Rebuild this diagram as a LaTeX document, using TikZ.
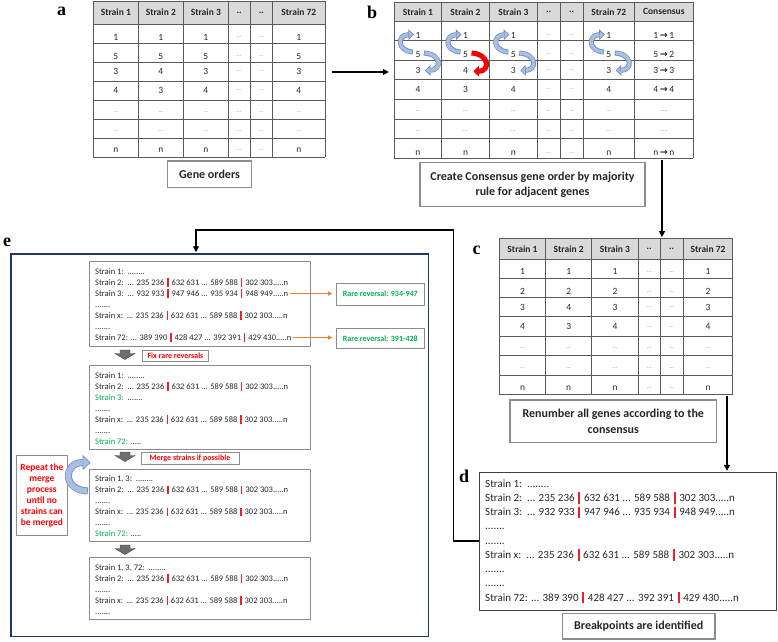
\documentclass[tikz,border=0pt]{standalone}
\usepackage{fontspec}
\setmainfont{Carlito}
\newfontfamily\lblfont{Liberation Serif}
\newfontfamily\djv{DejaVu Sans}
\usetikzlibrary{arrows.meta,fit,calc}
\definecolor{hdr}{HTML}{D9D9D9}
\definecolor{gridc}{HTML}{5A5A5A}
\definecolor{boxc}{HTML}{8C8C8C}
\definecolor{dgrey}{HTML}{404040}
\definecolor{txt}{HTML}{262626}
\definecolor{barred}{HTML}{F0202A}
\definecolor{rred}{HTML}{FF0000}
\definecolor{gr}{HTML}{00B050}
\definecolor{orng}{HTML}{ED7D31}
\definecolor{navy}{HTML}{1F3864}
\definecolor{bdark}{HTML}{6A86B8}
\definecolor{blight}{HTML}{A9BEE0}
\definecolor{garrow}{HTML}{6E6E6E}
\newcommand{\brk}{\hspace{0.33em}{\color{barred}\rule[-0.22em]{0.19em}{1.02em}}\hspace{0.33em}}
\newcommand{\dthree}{...}
\newcommand{\dfive}{.....}
\newcommand{\dseven}{.......}
\newcommand{\deight}{........}
\newcommand{\ellc}{\textcolor{gray}{\fontsize{6}{6}\selectfont\dthree}}
\newcommand{\ellcc}{\textcolor{gray}{\fontsize{6}{6}\selectfont\dfive}}
\newcommand{\arrsym}{{\djv\bfseries\fontsize{9.5}{9.5}\selectfont →}}
\newcommand{\sOne}{Strain 1:\ \ \deight}
\newcommand{\sTwo}{Strain 2:\ \ \dthree{} 235 236\brk 632 631 \dthree{} 589 588\brk 302 303\dfive n}
\newcommand{\sThree}{Strain 3:\ \ \dthree{} 932 933\brk 947 946 \dthree{} 935 934\brk 948 949\dfive n}
\newcommand{\sX}{Strain x:\ \ \dthree{} 235 236\brk 632 631 \dthree{} 589 588\brk 302 303\dfive n}
\newcommand{\sSeventyTwo}{Strain 72: \dthree{} 389 390\brk 428 427 \dthree{} 392 391\brk 429 430\dfive n}
\newcommand{\gThree}{\textcolor{gr}{Strain 3:}\ \ \dseven}
\newcommand{\gSeventyTwo}{\textcolor{gr}{Strain 72:} \dfive}
\newcommand{\mOne}{Strain 1, 3:\ \ \deight}
\newcommand{\mTwo}{Strain 1, 3, 72:\ \ \deight}
\newcommand{\trow}[5]{\foreach \ct [count=\ci] in {#5} {\pgfmathsetmacro\cx{{#3}[\ci-1]}\node[#1] (#2\ci) at (\cx,#4) {\ct};}}
\newcommand{\blockarrow}[3]{%
  \draw[line width=5pt, draw=#1, -{Triangle[length=5.5pt,width=10.5pt,fill=#2,line width=0.6pt]}] #3;
  \draw[line width=3.6pt, draw=#2, shorten >=5.5pt, shorten <=0.7pt] #3;}
\newcommand{\garr}[1]{\filldraw[fill=garrow, draw=dgrey, line width=0.4pt] (120,#1) -- (130,#1) -- (130,#1+3.5) -- (135,#1+3.5) -- (125,#1+9.5) -- (115,#1+3.5) -- (120,#1+3.5) -- cycle;}
\begin{document}
\begin{tikzpicture}[x=1pt,y=-1pt,
  gridl/.style={draw=gridc, line width=0.9pt},
  hd/.style={font=\bfseries\fontsize{9.5}{11}\selectfont, text=txt, inner sep=0},
  cell/.style={font=\fontsize{9.5}{11}\selectfont, text=txt, inner sep=0},
  capbox/.style={draw=boxc, line width=1.2pt, fill=white, font=\bfseries\fontsize{12}{15.5}\selectfont, text=txt, align=center, inner sep=0},
  ebox/.style={draw=boxc, line width=0.9pt, inner sep=0},
  eline/.style={anchor=base west, inner sep=0, font=\fontsize{8.5}{10}\selectfont, text=txt},
  dline/.style={anchor=base west, inner sep=0, font=\fontsize{11}{13}\selectfont, text=txt},
  redlbl/.style={draw=boxc, line width=0.9pt, inner sep=0, text=rred, font=\bfseries\fontsize{8}{9}\selectfont},
  grnlbl/.style={draw=boxc, line width=0.9pt, inner sep=0, text=gr, font=\bfseries\fontsize{8}{9}\selectfont},
  lbl/.style={font=\lblfont\bfseries\fontsize{18}{18}\selectfont, inner sep=0},
  conn/.style={draw=black, line width=1.3pt, -{Triangle[length=6pt,width=6pt]}},
  oarr/.style={draw=orng, line width=0.8pt, -{Triangle[length=4pt,width=4pt]}}
]
\useasboundingbox (0,0) rectangle (778,641);
\fill[white] (0,0) rectangle (778,641);

% ---------- Table a ----------
\fill[hdr] (93.3,1) rectangle (325,24);
\foreach \x in {93.3,138.3,183.3,228.3,250,272.7,325} \draw[gridl] (\x,1) -- (\x,157);
\foreach \y in {1,24,43,62,81,100,119,138,157} \draw[gridl] (93.3,\y) -- (325,\y);
\node[fit={(93.3,1)(325,157)}, inner sep=0] (tabA) {};
\trow{hd}{Ah-}{115.8,160.8,205.8,239.2,261.3,298.8}{12.5}{Strain 1,Strain 2,Strain 3,..,..,Strain 72}
\trow{cell}{Ar1-}{115.8,160.8,205.8,239.2,261.3,298.8}{37.5}{1,1,1,\ellc,\ellc,1}
\trow{cell}{Ar2-}{115.8,160.8,205.8,239.2,261.3,298.8}{56}{5,5,5,\ellc,\ellc,5}
\trow{cell}{Ar3-}{115.8,160.8,205.8,239.2,261.3,298.8}{71.5}{3,4,3,\ellc,\ellc,3}
\trow{cell}{Ar4-}{115.8,160.8,205.8,239.2,261.3,298.8}{90.5}{4,3,4,\ellc,\ellc,4}
\trow{cell}{Ar5-}{115.8,160.8,205.8,239.2,261.3,298.8}{112}{\ellc,\ellc,\ellc,\ellc,\ellc,\ellc}
\trow{cell}{Ar6-}{115.8,160.8,205.8,239.2,261.3,298.8}{131}{\ellc,\ellc,\ellc,\ellc,\ellc,\ellc}
\trow{cell}{Ar7-}{115.8,160.8,205.8,239.2,261.3,298.8}{150}{n,n,n,\ellc,\ellc,n}
\node[capbox, minimum width=83.6pt, minimum height=26.7pt] (capA) at (209.5,174.3) {Gene orders};
\node[lbl] (labA) at (61.7,11) {a};

% ---------- Table b ----------
\fill[hdr] (394,2) rectangle (693.3,21.3);
\foreach \x in {394,441.7,489.3,537.3,560,583.3,634.3,693.3} \draw[gridl] (\x,2) -- (\x,158.3);
\foreach \y in {2,21.3,40.7,60,79.3,99.3,119.3,138.3,158.3} \draw[gridl] (394,\y) -- (693.3,\y);
\node[fit={(394,2)(693.3,158.3)}, inner sep=0] (tabB) {};
\trow{hd}{Bh-}{417.9,465.5,513.3,548.7,571.7,608.8,663.8}{11.7}{Strain 1,Strain 2,Strain 3,..,..,Strain 72,Consensus}
\trow{cell}{Br1-}{417.9,465.5,513.3,548.7,571.7,608.8,663.8}{35}{1,1,1,\ellc,\ellc,1,1\,\arrsym\,1}
\trow{cell}{Br2-}{417.9,465.5,513.3,548.7,571.7,608.8,663.8}{54}{5,5,5,\ellc,\ellc,5,5\,\arrsym\,2}
\trow{cell}{Br3-}{417.9,465.5,513.3,548.7,571.7,608.8,663.8}{70.5}{3,4,3,\ellc,\ellc,3,3\,\arrsym\,3}
\trow{cell}{Br4-}{417.9,465.5,513.3,548.7,571.7,608.8,663.8}{89.5}{4,3,4,\ellc,\ellc,4,4\,\arrsym\,4}
\trow{cell}{Br5-}{417.9,465.5,513.3,548.7,571.7,608.8,663.8}{111}{\ellc,\ellc,\ellc,\ellc,\ellc,\ellc,\ellcc}
\trow{cell}{Br6-}{417.9,465.5,513.3,548.7,571.7,608.8,663.8}{131}{\ellc,\ellc,\ellc,\ellc,\ellc,\ellc,\ellcc}
\trow{cell}{Br7-}{417.9,465.5,513.3,548.7,571.7,608.8,663.8}{153}{n,n,n,\ellc,\ellc,n,n\,\arrsym\,n}
\node[capbox, minimum width=225pt, minimum height=44pt] (capB) at (532.5,184.7) {Create Consensus gene order by majority\\rule for adjacent genes};
\node[lbl] (labB) at (372,12) {b};
% curved arrows
\foreach \k in {1,2,3,6} {
  \blockarrow{bdark}{blight}{($(Br2-\k)+(-5,-2)$) .. controls +(-16,-1) and +(-17,0.5) .. ($(Br1-\k)+(-4,-0.5)$)}
}
\foreach \k in {1,3,6} {
  \blockarrow{bdark}{blight}{($(Br2-\k)+(6,-1)$) .. controls +(18,1) and +(17,-0.5) .. ($(Br3-\k)+(7,0)$)}
}
\blockarrow{rred!85!black}{rred}{($(Br2-2)+(6,-1)$) .. controls +(18,1) and +(17,-0.5) .. ($(Br3-2)+(8,1)$)}

% ---------- Table c ----------
\fill[hdr] (499.3,238.3) rectangle (732.7,259);
\foreach \x in {499.3,545.7,591.7,638.3,660,683.3,732.7} \draw[gridl] (\x,238.3) -- (\x,394.3);
\foreach \y in {238.3,259,278.3,297.7,316.7,336,355.7,375,394.3} \draw[gridl] (499.3,\y) -- (732.7,\y);
\node[fit={(499.3,238.3)(732.7,394.3)}, inner sep=0] (tabC) {};
\trow{hd}{Ch-}{522.5,568.7,615,649.2,671.7,708}{249}{Strain 1,Strain 2,Strain 3,..,..,Strain 72}
\trow{cell}{Cr1-}{522.5,568.7,615,649.2,671.7,708}{271.7}{1,1,1,\ellc,\ellc,1}
\trow{cell}{Cr2-}{522.5,568.7,615,649.2,671.7,708}{291.7}{2,2,2,\ellc,\ellc,2}
\trow{cell}{Cr3-}{522.5,568.7,615,649.2,671.7,708}{307.3}{3,4,3,\ellc,\ellc,3}
\trow{cell}{Cr4-}{522.5,568.7,615,649.2,671.7,708}{326.7}{4,3,4,\ellc,\ellc,4}
\trow{cell}{Cr5-}{522.5,568.7,615,649.2,671.7,708}{348.3}{\ellc,\ellc,\ellc,\ellc,\ellc,\ellc}
\trow{cell}{Cr6-}{522.5,568.7,615,649.2,671.7,708}{367.7}{\ellc,\ellc,\ellc,\ellc,\ellc,\ellc}
\trow{cell}{Cr7-}{522.5,568.7,615,649.2,671.7,708}{388.3}{n,n,n,\ellc,\ellc,n}
\node[capbox, minimum width=206.7pt, minimum height=42.3pt] (capC) at (613.3,421.2) {Renumber all genes according to the\\consensus};
\node[lbl] (labC) at (476.7,250) {c};

% ---------- Panel d ----------
\node[draw=dgrey, line width=1pt, minimum width=297pt, minimum height=137.7pt, inner sep=0] (dBox) at (627.5,541.15) {};
\foreach \t [count=\i] in {\sOne,\sTwo,\sThree,\dseven,\dseven,\sX,\dseven,\dseven,\sSeventyTwo}
  \node[dline] (dl\i) at (485,472.75+14.25*\i) {\t};
\node[capbox, minimum width=152.7pt, minimum height=25.7pt] (capD) at (638.7,626.2) {Breakpoints are identified};
\node[lbl] (labD) at (464,476) {d};

% ---------- Panel e ----------
\node[draw=navy, line width=1.5pt, minimum width=417.3pt, minimum height=382.7pt, inner sep=0] (eBox) at (219.65,445.35) {};
\node[lbl] (labE) at (7,242) {e};
\node[ebox, minimum width=221.4pt, minimum height=85pt] (e1) at (200,303.5) {};
\node[ebox, minimum width=221.4pt, minimum height=84.3pt] (e2) at (200,407.15) {};
\node[ebox, minimum width=221.4pt, minimum height=72.4pt] (e3) at (200,505.5) {};
\node[ebox, minimum width=221.4pt, minimum height=61.6pt] (e4) at (200,588.5) {};
\foreach \t [count=\i] in {\sOne,\sTwo,\sThree,\dseven,\sX,\dseven,\sSeventyTwo}
  \node[eline] (e1l\i) at (95,263+11*\i) {\t};
\foreach \t [count=\i] in {\sOne,\sTwo,\gThree,\dseven,\sX,\dseven,\gSeventyTwo}
  \node[eline] (e2l\i) at (95,367+11*\i) {\t};
\foreach \t [count=\i] in {\mOne,\sTwo,\dseven,\sX,\dseven,\gSeventyTwo}
  \node[eline] (e3l\i) at (95,470.5+11*\i) {\t};
\foreach \t [count=\i] in {\mTwo,\sTwo,\dseven,\sX,\dseven}
  \node[eline] (e4l\i) at (95,559+11*\i) {\t};
\node[grnlbl, minimum width=87.3pt, minimum height=22pt] (rr1) at (380.3,294) {Rare reversal: 934-947};
\node[grnlbl, minimum width=87.3pt, minimum height=20pt] (rr2) at (380.3,338.3) {Rare reversal: 391-428};
\draw[oarr, shorten <=2pt, shorten >=4pt] (e1l3.east) -- (e1l3.east -| rr1.west);
\draw[oarr, shorten <=2pt, shorten >=4pt] (e1l7.east) -- (e1l7.east -| rr2.west);
\garr{350}
\garr{452}
\garr{545}
\node[redlbl, minimum width=66pt, minimum height=10.5pt] (fixl) at (175.5,355.8) {Fix rare reversals};
\node[redlbl, minimum width=98pt, minimum height=11.3pt] (mergel) at (190,458.3) {Merge strains if possible};
\node[draw=boxc, line width=0.9pt, minimum width=51.7pt, minimum height=80pt, inner sep=0, align=center, text=rred, font=\bfseries\fontsize{9.5}{11.1}\selectfont] (rep) at (41.85,495.7) {Repeat the\\merge\\process\\until no\\strains can\\be merged};
\draw[line width=7pt, draw=bdark, -{Triangle[length=8pt,width=15pt,fill=blight,line width=0.6pt]}] ($(e3.west)+(-1,-14.5)$) .. controls +(-26,-1) and +(-27,0) .. ($(e3.north west)+(1.7,-6.3)$);
\draw[line width=5.6pt, draw=blight, shorten >=8pt, shorten <=0.7pt] ($(e3.west)+(-1,-14.5)$) .. controls +(-26,-1) and +(-27,0) .. ($(e3.north west)+(1.7,-6.3)$);

% ---------- connectors ----------
\coordinate (abj) at (332,72);
\draw[conn, shorten <=7pt, shorten >=5pt] (abj -| tabA.east) -- (abj -| tabB.west);
\coordinate (bcj) at (662,0);
\draw[conn, shorten <=1pt, shorten >=1pt] (bcj |- tabB.south) -- (bcj |- tabC.north);
\coordinate (cdj) at (727,0);
\draw[conn, shorten <=1pt, shorten >=1pt] (cdj |- tabC.south) -- (cdj |- dBox.north);
\coordinate (dj) at (453.3,541);
\coordinate (ej) at (196,230);
\draw[conn, shorten >=1pt] (dj -| dBox.west) -- (dj) |- (ej) -- (ej |- eBox.north);
\end{tikzpicture}
\end{document}
